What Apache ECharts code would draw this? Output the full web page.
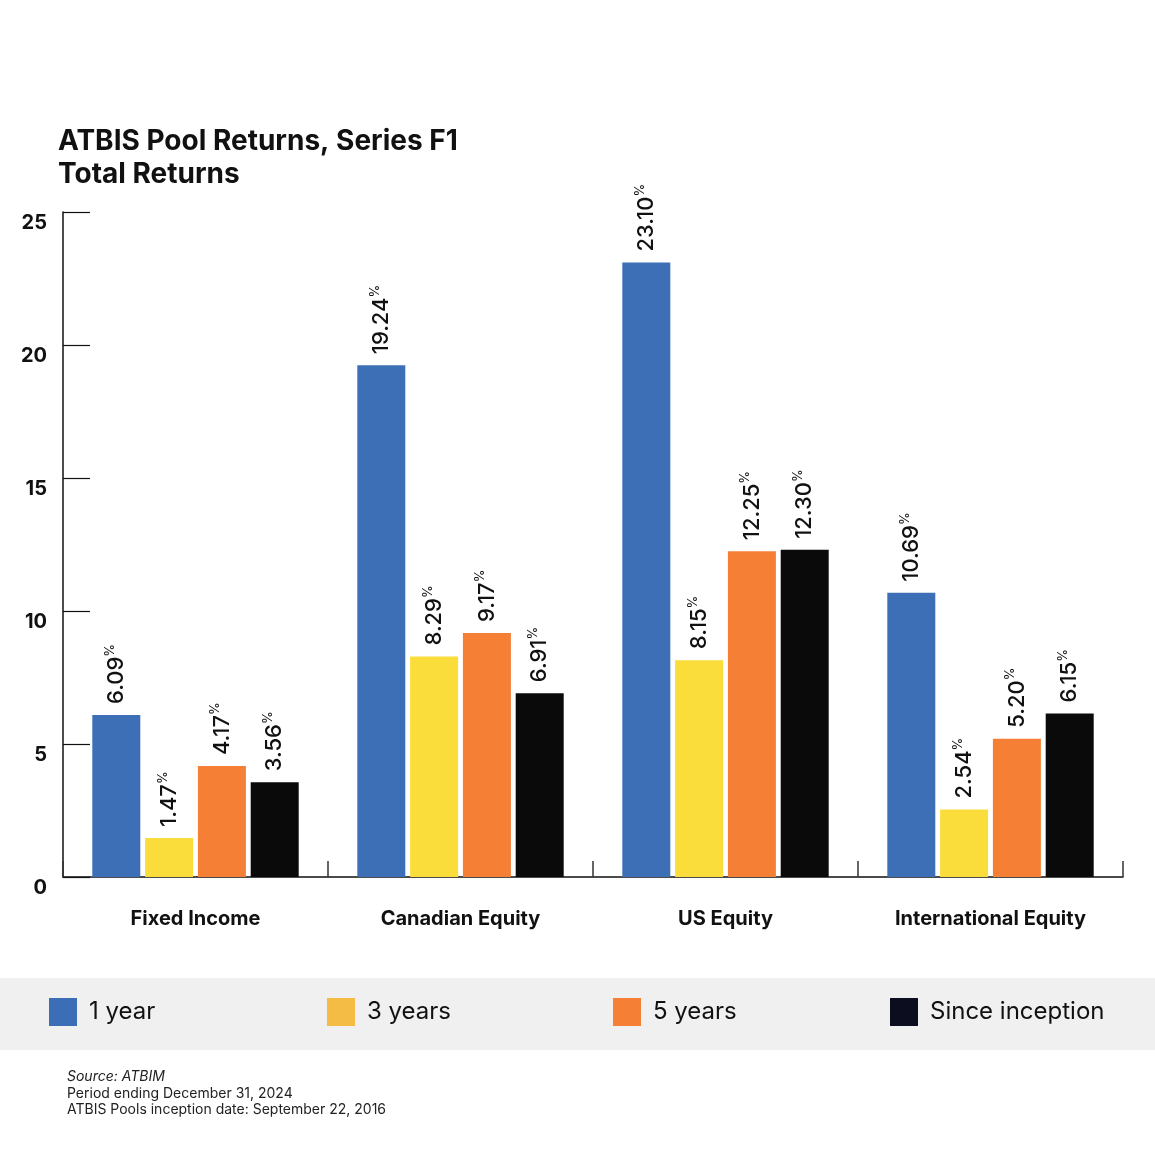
<!DOCTYPE html>
<html>
<head>
<meta charset="utf-8">
<script src="https://cdn.jsdelivr.net/npm/echarts@6/dist/echarts.min.js"></script>
<style>html,body{margin:0;padding:0;background:#fff}#c{width:1155px;height:1155px}</style>
</head>
<body>
<div id="c"></div>
<script>
const categories = ['Fixed Income', 'Canadian Equity', 'US Equity', 'International Equity'];
const seriesNames = ['1 year', '3 years', '5 years', 'Since inception'];
const oneYear = [6.09, 19.24, 23.10, 10.69];
const threeYears = [1.47, 8.29, 8.15, 2.54];
const fiveYears = [4.17, 9.17, 12.25, 5.20];
const sinceInception = [3.56, 6.91, 12.30, 6.15];
const yTicks = [0, 5, 10, 15, 20, 25];

const barColors = ['#3D6FB7', '#FADD3A', '#F47F35', '#0A0A0A'];
const legendColors = ['#3C6EB5', '#F5BC45', '#F47F35', '#0D0D20'];
const dataSets = [oneYear, threeYears, fiveYears, sinceInception];
const legendLefts = [49, 327, 613, 890];
const FONT = 'Inter, "Noto Sans", sans-serif';

const chart = echarts.init(document.getElementById('c'));

const series = seriesNames.map((name, i) => ({
  name: name,
  type: 'bar',
  data: dataSets[i],
  barWidth: 48,
  barGap: '10%',
  itemStyle: { color: barColors[i] },
  label: {
    show: true,
    position: 'top',
    rotate: 90,
    align: 'left',
    verticalAlign: 'middle',
    distance: 11,
    formatter: p => '{v|' + p.value.toFixed(2) + '}{p|%}',
    rich: {
      v: { fontSize: 22, fontFamily: FONT, fontWeight: 500, color: '#111', lineHeight: 26 },
      p: { fontSize: 13, fontFamily: FONT, color: '#111', lineHeight: 26, verticalAlign: 'top', padding: [0, 0, 10, 0] }
    }
  }
}));

const legends = seriesNames.map((name, i) => ({
  data: [{ name: name, icon: 'rect', itemStyle: { color: legendColors[i] } }],
  left: legendLefts[i],
  top: 998,
  padding: 0,
  itemWidth: 28,
  itemHeight: 28,
  itemGap: 0,
  selectedMode: false,
  textStyle: { fontSize: 24, fontFamily: FONT, color: '#111', padding: [2, 0, 0, 7] }
}));

chart.setOption({
  backgroundColor: '#fff',
  animation: false,
  title: {
    text: 'ATBIS Pool Returns, Series F1\nTotal Returns',
    left: 58,
    top: 125,
    padding: 0,
    textStyle: { fontSize: 28, fontWeight: 'bold', fontFamily: FONT, color: '#111', lineHeight: 33 }
  },
  legend: legends,
  graphic: [
    { type: 'rect', z: -10, shape: { x: 0, y: 978, width: 1155, height: 72 }, style: { fill: '#F0F0F0' } },
    { type: 'text', left: 67, top: 1070, style: { text: 'Source: ATBIM', font: 'italic 14px ' + FONT, fill: '#222' } },
    { type: 'text', left: 67, top: 1087, style: { text: 'Period ending December 31, 2024', font: '14px ' + FONT, fill: '#222' } },
    { type: 'text', left: 67, top: 1103, style: { text: 'ATBIS Pools inception date: September 22, 2016', font: '14px ' + FONT, fill: '#222' } }
  ],
  grid: { left: 63, right: 32, top: 212, bottom: 278, containLabel: false },
  xAxis: {
    type: 'category',
    data: categories,
    axisLine: { show: true, lineStyle: { color: '#111', width: 1.5 } },
    axisTick: { show: true, inside: true, length: 16, lineStyle: { color: '#333', width: 1.5 } },
    axisLabel: { fontSize: 20, fontWeight: 'bold', fontFamily: FONT, color: '#111', margin: 32 }
  },
  yAxis: {
    type: 'value',
    min: yTicks[0],
    max: yTicks[yTicks.length - 1],
    interval: 5,
    splitLine: { show: false },
    axisLine: { show: true, lineStyle: { color: '#111', width: 1.5 } },
    axisTick: { show: true, inside: true, length: 27, lineStyle: { color: '#111', width: 1.2 } },
    axisLabel: { fontSize: 20, fontWeight: 'bold', fontFamily: FONT, color: '#111', margin: 16, verticalAlign: 'top', padding: [1, 0, 0, 0] }
  },
  series: series
});
</script>
</body>
</html>
